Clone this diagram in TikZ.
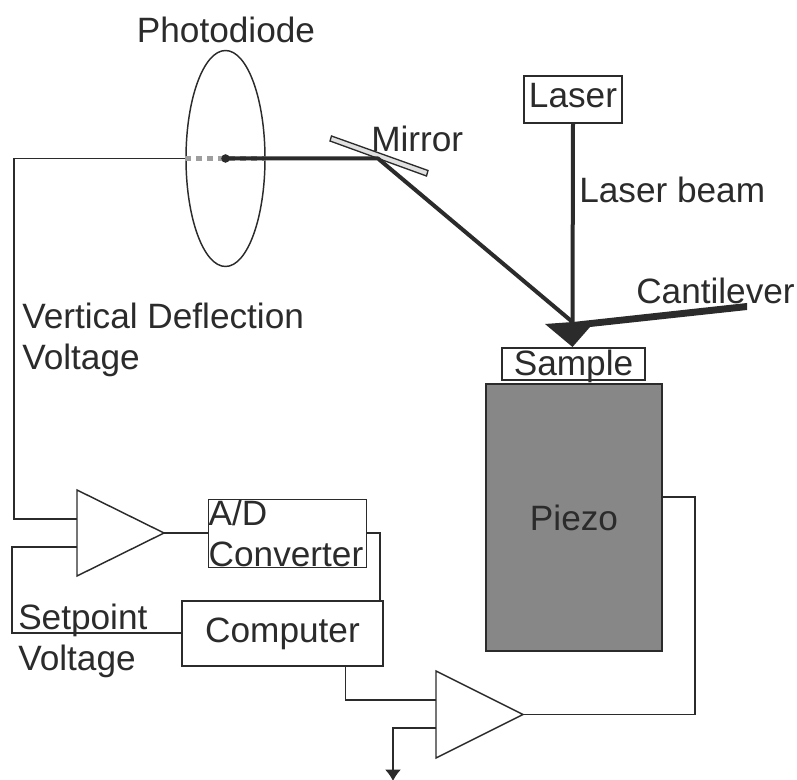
\documentclass[tikz,border=0pt]{standalone}
\usepackage{xcolor}
\usepackage{fontspec}
\setmainfont{Liberation Sans}
\usepackage{tikz}
\usetikzlibrary{arrows.meta, shapes.geometric}
\definecolor{inkgray}{HTML}{2B2B2B}
\tikzset{
  wire/.style={draw=inkgray, line width=1.1pt},
  beam/.style={draw=inkgray, line width=3pt},
  lbl/.style={text=inkgray, inner sep=0pt, font=\fontsize{26.4}{30.5}\selectfont},
  box/.style={lbl, draw=inkgray, line width=1.1pt},
}
\begin{document}
\begin{tikzpicture}[x=0.75pt, y=-0.75pt]
      \useasboundingbox (0, 0) rectangle (797, 780);
      % optical part
      \node[draw=inkgray, line width=1.1pt, ellipse, minimum width=59.25pt, minimum height=162pt, inner sep=0pt] (photodiode) at (225.5, 158.5) {};
      \node[lbl, anchor=base] (photodiodetext) at (226, 43) {Photodiode};
      \coordinate (spot) at (225.5, 158.5);
      \coordinate (bounce) at (378, 158.5);
      \coordinate (tip) at (572.5, 322);
      \draw[draw=inkgray, line width=1pt, fill=black!12] (331.5, 136) -- (428, 170.5) -- (426.5, 176) -- (330, 141) -- cycle;
      \node[lbl, anchor=base west] (mirror) at (371, 152) {Mirror};
      \node[box, minimum width=73.5pt, minimum height=35.25pt, text height=17pt, text depth=4.5pt] (laser) at (573, 99.5) {Laser};
      \node[lbl, anchor=base west] (beamtext) at (579, 203) {Laser beam};
      \draw[draw=black!38, line width=3.6pt, dash pattern=on 4.4pt off 3.8pt] (photodiode.west) -- (photodiode.east);
      \draw[beam, line join=round] (spot) -- (bounce) -- (tip);
      \draw[beam] (laser.south) -- (tip);
      \fill[inkgray] (spot) circle (3.2pt);
      % cantilever
      \fill[inkgray] (545, 324) -- (573, 322) -- (747, 303) -- (747, 310) -- (590, 327) -- (572.5, 347) -- cycle;
      \node[lbl, anchor=base west] (cantilever) at (636, 304) {Cantilever};
      \node[box, minimum width=107.25pt, minimum height=24pt, text height=20.5pt, text depth=2.5pt] (sample) at (573.5, 364) {Sample};
      \node[box, fill=black!47, minimum width=132pt, minimum height=200.25pt, text depth=0pt] (piezo) at (574, 517.5) {Piezo};
      % electronics
      \coordinate (ampa) at (77, 490);
      \coordinate (ampb) at (77, 576);
      \coordinate (ampc) at (164, 533);
      \draw[wire, line join=miter] (ampa) -- (ampb) -- (ampc) -- cycle;
      \coordinate (ampin) at (77, 519);
      \coordinate (ampset) at (77, 547);
      \node[box, align=left, anchor=north west, minimum width=118.5pt, minimum height=51pt, text width=118.5pt] (adc) at (208, 499) {A/D\\Converter};
      \node[box, minimum width=150.75pt, minimum height=48.75pt] (computer) at (282.5, 633.5) {Computer};
      \coordinate (ampd) at (436, 671);
      \coordinate (ampe) at (436, 758);
      \coordinate (ampf) at (523, 714.5);
      \draw[wire, line join=miter] (ampd) -- (ampe) -- (ampf) -- cycle;
      \coordinate (compout) at (345.5, 666);
      \coordinate (ampgin) at (436, 700);
      \coordinate (ampgout) at (436, 728);
      \coordinate (ground) at (393, 781);
      \coordinate (piezoout) at (662, 497);
      \coordinate (adcout) at (367, 533);
      \coordinate (compin) at (380, 601);
      \coordinate (compset) at (182, 633);
      \draw[wire] (photodiode.west) -- (14, 158.5) |- (ampin);
      \draw[wire] (ampset) -| (12, 633) -- (compset);
      \draw[wire] (ampc) -- (ampc -| adc.west);
      \draw[wire] (adcout) -| (compin);
      \draw[wire] (compout) |- (ampgin);
      \draw[wire] (piezoout) -- (695, 497) |- (ampf);
      \draw[wire, -{Latex[length=8.5pt, width=12pt]}] (ampgout) -| (ground);
      \node[lbl, anchor=north west, align=left] (deflection) at (22, 303) {Vertical Deflection\\Voltage};
      \node[lbl, anchor=north west, align=left] (setpoint) at (18, 604) {Setpoint\\Voltage};
    \end{tikzpicture}
\end{document}
